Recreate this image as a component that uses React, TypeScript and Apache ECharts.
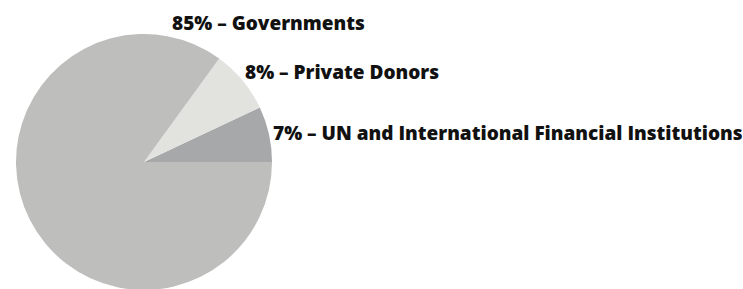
import React, { useEffect, useRef } from "react";
import * as echarts from "echarts";

const categories = ["UN and International Financial Institutions", "Private Donors", "Governments"];
const values = [7, 8, 85];
const colors = ["#a7a8aa", "#e2e2df", "#bebebd"];
const labelPositions = [
  [273, 133],
  [245, 72],
  [172, 23],
];

export default function App() {
  const ref = useRef<HTMLDivElement>(null);
  useEffect(() => {
    const chart = echarts.init(ref.current!, undefined, { renderer: "svg" });
    chart.setOption({
      animation: false,
      backgroundColor: "#ffffff",
      series: [
        {
          type: "pie",
          center: [144, 162],
          radius: 128,
          startAngle: 0,
          clockwise: false,
          silent: true,
          avoidLabelOverlap: false,
          data: categories.map((c, i) => ({
            name: c,
            value: values[i],
            itemStyle: { color: colors[i] },
          })),
          label: {
            show: true,
            overflow: "none",
            formatter: (p: any) => `${p.value}% – ${p.name}`,
            color: "#111111",
            fontFamily: "Open Sans",
            fontWeight: 800,
            fontSize: 19,
          },
          labelLine: { show: false },
          labelLayout: (params: any) => ({
            x: labelPositions[params.dataIndex][0],
            y: labelPositions[params.dataIndex][1],
            align: "left",
            verticalAlign: "middle",
          }),
        },
      ],
    });
    return () => chart.dispose();
  }, []);
  return (
    <div
      ref={ref}
      style={{ position: "fixed", left: 0, top: 0, width: 743, height: 289 }}
    />
  );
}
